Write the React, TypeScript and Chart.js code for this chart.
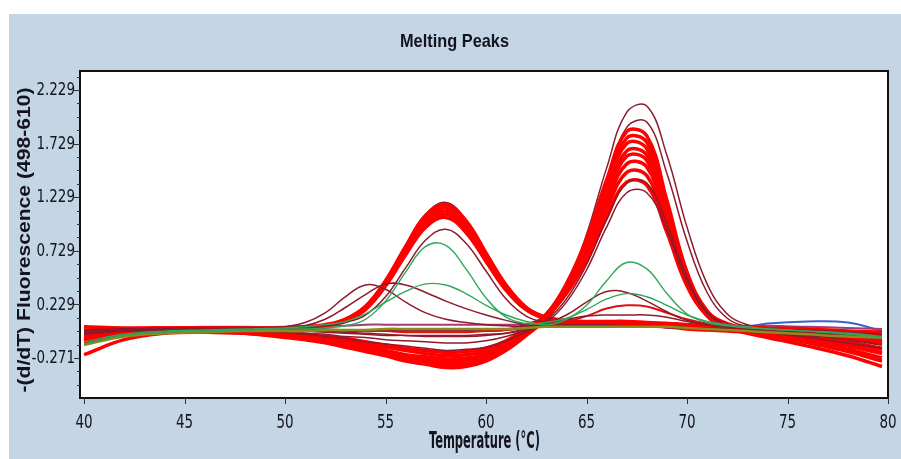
import React, { useEffect, useRef } from "react";
import { Chart, registerables } from "chart.js";

Chart.register(...registerables);

// ---------- data ----------
const TEMPS = [40, 42, 44, 46, 48, 50, 51, 52, 53, 54, 55, 56, 57, 58, 59, 60, 61, 62, 63, 64, 65, 66, 67, 68, 69, 70, 71, 72, 73, 74, 76, 78, 79.7];

const X_TICKS = [40, 45, 50, 55, 60, 65, 70, 75, 80];
const Y_TICKS = [-0.271, 0.229, 0.729, 1.229, 1.729, 2.229];
const X_MIN = 39.8;
const X_MAX = 80;
const Y_MIN = -0.644;
const Y_MAX = 2.406;

const TITLE = "Melting Peaks";
const X_TITLE = "Temperature (°C)";
const Y_TITLE = "-(d/dT) Fluorescence (498-610)";

// high-temperature peak group (bright red)
const RED_HI_1 = [-0.02, -0.01, 0.0, 0.0, -0.01, -0.04, -0.05, -0.07, -0.09, -0.12, -0.15, -0.18, -0.20, -0.22, -0.21, -0.18, -0.11, 0.0, 0.12, 0.33, 0.64, 1.04, 1.37, 1.34, 0.90, 0.40, 0.13, 0.03, 0.0, -0.01, -0.03, -0.05, -0.08];
const RED_HI_2 = [-0.08, -0.05, -0.03, -0.03, -0.04, -0.07, -0.09, -0.12, -0.15, -0.20, -0.24, -0.28, -0.31, -0.34, -0.33, -0.29, -0.19, -0.05, 0.10, 0.34, 0.68, 1.11, 1.46, 1.43, 0.95, 0.42, 0.12, 0.01, -0.03, -0.06, -0.13, -0.21, -0.30];
const RED_HI_3 = [-0.04, -0.02, -0.01, -0.01, -0.02, -0.05, -0.07, -0.10, -0.13, -0.16, -0.20, -0.24, -0.26, -0.28, -0.27, -0.24, -0.15, -0.03, 0.12, 0.36, 0.72, 1.17, 1.54, 1.51, 1.00, 0.45, 0.14, 0.03, 0.0, -0.02, -0.05, -0.08, -0.12];
const RED_HI_4 = [-0.24, -0.10, -0.04, -0.03, -0.04, -0.08, -0.10, -0.13, -0.17, -0.21, -0.25, -0.30, -0.33, -0.36, -0.35, -0.30, -0.20, -0.06, 0.10, 0.37, 0.74, 1.21, 1.61, 1.57, 1.05, 0.46, 0.13, 0.01, -0.04, -0.08, -0.16, -0.25, -0.35];
const RED_HI_5 = [-0.05, -0.03, -0.02, -0.02, -0.03, -0.06, -0.08, -0.11, -0.14, -0.18, -0.22, -0.26, -0.29, -0.31, -0.30, -0.26, -0.17, -0.04, 0.12, 0.38, 0.76, 1.25, 1.66, 1.62, 1.08, 0.48, 0.15, 0.04, 0.0, -0.02, -0.07, -0.12, -0.18];
const RED_HI_6 = [-0.03, -0.02, -0.01, -0.01, -0.02, -0.05, -0.06, -0.08, -0.11, -0.14, -0.17, -0.20, -0.23, -0.25, -0.24, -0.21, -0.13, -0.01, 0.14, 0.40, 0.79, 1.30, 1.73, 1.68, 1.12, 0.50, 0.16, 0.04, 0.0, -0.03, -0.08, -0.15, -0.22];
const RED_HI_7 = [-0.07, -0.04, -0.02, -0.02, -0.03, -0.07, -0.09, -0.12, -0.15, -0.19, -0.23, -0.27, -0.30, -0.33, -0.32, -0.28, -0.18, -0.05, 0.11, 0.41, 0.82, 1.34, 1.78, 1.74, 1.16, 0.52, 0.16, 0.03, -0.02, -0.05, -0.11, -0.19, -0.27];
const RED_HI_8 = [-0.12, -0.06, -0.03, -0.02, -0.02, -0.05, -0.07, -0.10, -0.13, -0.17, -0.21, -0.25, -0.27, -0.29, -0.28, -0.25, -0.16, -0.03, 0.13, 0.42, 0.84, 1.39, 1.84, 1.80, 1.20, 0.53, 0.17, 0.05, 0.01, -0.01, -0.05, -0.09, -0.14];

// low-temperature peak group (bright red)
const RED_LO_1 = [0.02, 0.01, 0.01, 0.0, 0.0, 0.0, 0.01, 0.03, 0.07, 0.18, 0.40, 0.69, 0.95, 1.04, 0.90, 0.63, 0.36, 0.18, 0.09, 0.06, 0.05, 0.05, 0.05, 0.04, 0.03, 0.02, 0.01, 0.0, -0.01, -0.02, -0.05, -0.08, -0.12];
const RED_LO_2 = [-0.06, -0.03, -0.01, -0.01, -0.01, 0.0, 0.01, 0.03, 0.08, 0.19, 0.41, 0.71, 0.97, 1.07, 0.93, 0.65, 0.37, 0.18, 0.10, 0.07, 0.06, 0.06, 0.06, 0.05, 0.05, 0.04, 0.03, 0.02, 0.01, 0.0, -0.02, -0.04, -0.06];
const RED_LO_3 = [-0.03, -0.01, 0.0, 0.0, 0.0, 0.0, 0.01, 0.03, 0.08, 0.20, 0.42, 0.73, 1.00, 1.10, 0.95, 0.67, 0.38, 0.19, 0.10, 0.07, 0.06, 0.05, 0.05, 0.04, 0.03, 0.01, 0.0, -0.01, -0.02, -0.04, -0.08, -0.13, -0.19];
const RED_LO_4 = [-0.01, 0.0, 0.01, 0.01, 0.01, 0.01, 0.02, 0.04, 0.09, 0.21, 0.44, 0.75, 1.03, 1.13, 0.98, 0.69, 0.40, 0.20, 0.11, 0.08, 0.07, 0.07, 0.07, 0.06, 0.05, 0.04, 0.03, 0.02, 0.02, 0.01, 0.0, -0.02, -0.03];
const RED_LO_5 = [-0.10, -0.05, -0.02, -0.01, -0.01, 0.0, 0.01, 0.03, 0.09, 0.21, 0.45, 0.77, 1.06, 1.16, 1.01, 0.71, 0.41, 0.20, 0.10, 0.06, 0.05, 0.04, 0.04, 0.03, 0.02, 0.0, -0.01, -0.02, -0.03, -0.05, -0.10, -0.16, -0.23];

// dark red outlines
const MAROON_LO_1 = [-0.04, -0.02, -0.01, 0.0, 0.0, 0.01, 0.02, 0.04, 0.09, 0.21, 0.45, 0.78, 1.07, 1.18, 1.02, 0.71, 0.41, 0.20, 0.10, 0.06, 0.05, 0.05, 0.04, 0.04, 0.03, 0.02, 0.01, 0.0, -0.01, -0.02, -0.05, -0.09, -0.13];
const MAROON_LO_2 = [-0.02, 0.0, 0.0, 0.0, 0.0, 0.01, 0.02, 0.03, 0.06, 0.13, 0.30, 0.57, 0.83, 0.93, 0.80, 0.54, 0.28, 0.12, 0.06, 0.04, 0.04, 0.04, 0.03, 0.03, 0.02, 0.01, 0.0, 0.0, -0.01, -0.02, -0.04, -0.06, -0.09];
const MAROON_HI_1 = [-0.03, -0.01, 0.0, 0.0, 0.01, 0.0, -0.01, -0.01, -0.02, -0.02, -0.02, -0.02, -0.02, -0.02, -0.02, -0.02, -0.01, 0.05, 0.12, 0.40, 0.88, 1.50, 2.02, 2.08, 1.62, 0.95, 0.42, 0.14, 0.04, 0.01, -0.02, -0.04, -0.06];
const MAROON_HI_2 = [-0.02, 0.0, 0.0, 0.0, 0.0, -0.01, -0.02, -0.03, -0.04, -0.05, -0.06, -0.06, -0.07, -0.07, -0.07, -0.06, -0.04, 0.01, 0.10, 0.36, 0.80, 1.38, 1.88, 1.93, 1.45, 0.82, 0.34, 0.10, 0.02, 0.0, -0.03, -0.06, -0.09];
const MAROON_HI_3 = [-0.03, -0.01, 0.0, 0.0, -0.01, -0.02, -0.04, -0.05, -0.07, -0.08, -0.10, -0.11, -0.12, -0.13, -0.13, -0.11, -0.07, -0.01, 0.08, 0.28, 0.60, 1.02, 1.36, 1.36, 0.98, 0.48, 0.16, 0.04, 0.0, -0.02, -0.06, -0.10, -0.15];
const MAROON_HI_4 = [-0.05, -0.02, -0.01, -0.01, -0.02, -0.03, -0.05, -0.07, -0.09, -0.12, -0.14, -0.16, -0.18, -0.20, -0.19, -0.17, -0.11, -0.03, 0.06, 0.25, 0.55, 0.95, 1.27, 1.27, 0.92, 0.45, 0.15, 0.04, 0.0, -0.03, -0.08, -0.13, -0.18];

// small dark red peaks
const MAROON_SMALL_1 = [-0.02, 0.0, 0.01, 0.01, 0.01, 0.02, 0.06, 0.15, 0.30, 0.41, 0.37, 0.25, 0.15, 0.09, 0.06, 0.04, 0.03, 0.02, 0.02, 0.02, 0.02, 0.02, 0.02, 0.02, 0.01, 0.01, 0.0, 0.0, -0.01, -0.01, -0.03, -0.05, -0.07];
const MAROON_SMALL_2 = [-0.03, -0.01, 0.0, 0.0, 0.0, 0.01, 0.03, 0.09, 0.20, 0.32, 0.42, 0.41, 0.34, 0.26, 0.19, 0.13, 0.08, 0.04, 0.03, 0.03, 0.03, 0.03, 0.03, 0.02, 0.02, 0.01, 0.01, 0.0, -0.01, -0.02, -0.04, -0.06, -0.09];
const MAROON_SMALL_3 = [-0.04, -0.02, -0.01, -0.01, -0.01, -0.01, -0.01, -0.02, -0.03, -0.04, -0.05, -0.06, -0.06, -0.06, -0.06, -0.05, -0.04, -0.01, 0.05, 0.13, 0.25, 0.35, 0.34, 0.26, 0.16, 0.08, 0.04, 0.02, 0.01, 0.0, -0.02, -0.05, -0.08];
const MAROON_SMALL_4 = [-0.01, 0.0, 0.0, 0.0, 0.0, 0.0, 0.0, 0.0, -0.01, -0.01, -0.01, -0.01, -0.01, -0.01, -0.01, 0.0, 0.0, 0.03, 0.06, 0.09, 0.12, 0.13, 0.13, 0.13, 0.11, 0.07, 0.04, 0.02, 0.01, 0.0, -0.01, -0.03, -0.05];
const RED_SMALL = [-0.02, -0.01, 0.0, 0.0, 0.0, 0.0, 0.0, -0.01, -0.01, -0.02, -0.02, -0.03, -0.03, -0.03, -0.03, -0.02, -0.01, 0.01, 0.04, 0.07, 0.12, 0.19, 0.22, 0.21, 0.15, 0.09, 0.05, 0.03, 0.01, 0.0, -0.03, -0.06, -0.10];

// green traces
const GREEN_1 = [-0.14, -0.06, -0.03, -0.02, -0.01, 0.0, 0.0, 0.01, 0.03, 0.09, 0.26, 0.53, 0.77, 0.78, 0.56, 0.29, 0.11, 0.05, 0.06, 0.10, 0.18, 0.28, 0.33, 0.30, 0.22, 0.13, 0.07, 0.04, 0.02, 0.0, -0.02, -0.05, -0.08];
const GREEN_2 = [-0.12, -0.05, -0.02, -0.01, 0.0, 0.01, 0.02, 0.04, 0.07, 0.14, 0.25, 0.35, 0.42, 0.41, 0.33, 0.22, 0.13, 0.07, 0.04, 0.09, 0.22, 0.45, 0.62, 0.56, 0.33, 0.14, 0.06, 0.03, 0.01, 0.0, -0.02, -0.04, -0.07];

// flat traces
const PURPLE = [-0.01, 0.0, 0.01, 0.02, 0.02, 0.02, 0.03, 0.03, 0.03, 0.04, 0.04, 0.04, 0.04, 0.04, 0.04, 0.04, 0.04, 0.04, 0.04, 0.04, 0.04, 0.04, 0.04, 0.04, 0.04, 0.03, 0.03, 0.03, 0.03, 0.03, 0.02, 0.01, 0.0];
const OLIVE = [-0.15, -0.07, -0.04, -0.03, -0.02, -0.02, -0.02, -0.01, -0.01, -0.01, 0.0, 0.0, 0.0, 0.0, 0.0, 0.0, 0.0, 0.01, 0.02, 0.02, 0.02, 0.02, 0.02, 0.02, 0.02, 0.01, 0.0, -0.01, -0.02, -0.03, -0.05, -0.07, -0.08];
const BLUE = [-0.02, -0.01, -0.01, -0.01, -0.01, -0.01, -0.01, -0.01, -0.01, -0.01, -0.01, -0.01, -0.01, -0.01, -0.01, -0.01, -0.01, 0.02, 0.06, 0.06, 0.05, 0.04, 0.04, 0.03, 0.02, 0.01, 0.0, 0.0, 0.02, 0.05, 0.07, 0.06, -0.02];

// ---------- styles ----------
const C_RED = "#ff0000";
const C_MAROON = "#8e1a2c";
const C_GREEN = "#2fa85a";
const C_OLIVE = "#8f8a1c";
const C_BLUE = "#3a62c8";
const C_PURPLE = "#a23c78";
const C_BG = "#c4d6e6";
const C_TEXT = "#14141e";

const NARROW = '"Liberation Sans Narrow", "Arial Narrow", "DejaVu Sans Condensed", sans-serif';
const WIDE = '"Liberation Sans", Arial, "DejaVu Sans", sans-serif';

function mk(values: number[], color: string, width: number) {
  return {
    data: TEMPS.map((t, i) => ({ x: t, y: values[i] })),
    borderColor: color,
    borderWidth: width,
    pointRadius: 0,
    fill: false,
    tension: 0.4,
  };
}

function drawText(
  ctx: CanvasRenderingContext2D,
  text: string,
  x: number,
  y: number,
  font: string,
  align: CanvasTextAlign,
  baseline: CanvasTextBaseline,
  sy: number,
  rot = 0,
  targetWidth = 0
) {
  ctx.save();
  ctx.font = font;
  ctx.textAlign = align;
  ctx.textBaseline = baseline;
  ctx.fillStyle = C_TEXT;
  let sx = 1;
  if (targetWidth > 0) {
    const w = ctx.measureText(text).width;
    if (w > 0) sx = targetWidth / w;
  }
  ctx.translate(x, y);
  if (rot) ctx.rotate(rot);
  ctx.scale(sx, sy);
  ctx.fillText(text, 0, 0);
  ctx.restore();
}

const framePlugin = {
  id: "frame",
  beforeDraw(chart: any) {
    const { ctx, width, height, chartArea } = chart;
    ctx.save();
    ctx.fillStyle = C_BG;
    ctx.fillRect(0, 0, width, height);
    ctx.fillStyle = "#ffffff";
    ctx.fillRect(chartArea.left, chartArea.top, chartArea.right - chartArea.left, chartArea.bottom - chartArea.top);
    ctx.restore();
  },
  afterDraw(chart: any) {
    const { ctx, chartArea } = chart;
    const xs = chart.scales.x;
    const ys = chart.scales.y;
    ctx.save();
    ctx.strokeStyle = "#111111";
    ctx.lineWidth = 2;
    ctx.strokeRect(chartArea.left, chartArea.top, chartArea.right - chartArea.left, chartArea.bottom - chartArea.top);
    ctx.lineWidth = 1;
    ctx.strokeStyle = "#333333";
    X_TICKS.forEach((v) => {
      const px = Math.round(xs.getPixelForValue(v)) + 0.5;
      ctx.beginPath();
      ctx.moveTo(px, chartArea.bottom);
      ctx.lineTo(px, chartArea.bottom + 6);
      ctx.stroke();
    });
    const step = (Y_TICKS[1] - Y_TICKS[0]) / 4;
    const tickAt = (v: number, len: number) => {
      const py = Math.round(ys.getPixelForValue(v)) + 0.5;
      ctx.beginPath();
      ctx.moveTo(chartArea.left - len, py);
      ctx.lineTo(chartArea.left, py);
      ctx.stroke();
    };
    for (let k = -8; k < 30; k++) {
      const v = Y_TICKS[0] + k * step;
      if (v <= Y_MIN + 0.01 || v >= Y_MAX - 0.01) continue;
      tickAt(v, k % 4 === 0 ? 6 : 3);
    }
    ctx.restore();

    Y_TICKS.forEach((v) => {
      drawText(ctx, v.toFixed(3), chartArea.left - 5, ys.getPixelForValue(v) + 0.5, `15px ${NARROW}`, "right", "middle", 1.2);
    });
    X_TICKS.forEach((v) => {
      drawText(ctx, String(v), xs.getPixelForValue(v), chartArea.bottom + 14.5, `15px ${NARROW}`, "center", "top", 1.35);
    });
    drawText(ctx, TITLE, 445.5, 28, `bold 16px ${WIDE}`, "center", "middle", 1.12, 0, 109);
    drawText(ctx, X_TITLE, 475.5, chartArea.bottom + 44, `bold 17px ${NARROW}`, "center", "middle", 1.3, 0, 111);
    drawText(ctx, Y_TITLE, 16, 226, `bold 19px ${WIDE}`, "center", "middle", 1, -Math.PI / 2, 305);
  },
};

export default function App() {
  const ref = useRef<HTMLCanvasElement | null>(null);
  useEffect(() => {
    if (!ref.current) return;
    const datasets = [
      mk(GREEN_1, C_GREEN, 1.4),
      mk(GREEN_2, C_GREEN, 1.4),
      mk(OLIVE, C_OLIVE, 2.5),
      mk(MAROON_SMALL_1, C_MAROON, 1.5),
      mk(MAROON_SMALL_2, C_MAROON, 1.5),
      mk(MAROON_SMALL_3, C_MAROON, 1.5),
      mk(MAROON_SMALL_4, C_MAROON, 1.5),
      mk(RED_SMALL, "#e01010", 2),
      mk(MAROON_LO_2, C_MAROON, 1.5),
      mk(MAROON_HI_3, C_MAROON, 1.5),
      mk(MAROON_HI_4, C_MAROON, 1.5),
      mk(RED_LO_1, C_RED, 3.5),
      mk(RED_LO_2, C_RED, 3.5),
      mk(RED_LO_3, C_RED, 3.5),
      mk(RED_LO_4, C_RED, 3.5),
      mk(RED_LO_5, C_RED, 3.5),
      mk(RED_HI_1, C_RED, 3.5),
      mk(RED_HI_2, C_RED, 3.5),
      mk(RED_HI_3, C_RED, 3.5),
      mk(RED_HI_4, C_RED, 3.5),
      mk(RED_HI_5, C_RED, 3.5),
      mk(RED_HI_6, C_RED, 3.5),
      mk(RED_HI_7, C_RED, 3.5),
      mk(RED_HI_8, C_RED, 3.5),
      mk(MAROON_LO_1, C_MAROON, 1.5),
      mk(MAROON_HI_1, C_MAROON, 1.5),
      mk(MAROON_HI_2, C_MAROON, 1.5),
      mk(PURPLE, C_PURPLE, 2),
      mk(BLUE, C_BLUE, 2),
    ];
    const chart = new Chart(ref.current, {
      type: "line",
      data: { datasets },
      options: {
        responsive: false,
        animation: false,
        events: [],
        layout: { padding: { top: 57, left: 0, right: 13, bottom: 0 } },
        plugins: { legend: { display: false }, tooltip: { enabled: false }, title: { display: false } },
        scales: {
          x: {
            type: "linear",
            min: X_MIN,
            max: X_MAX,
            afterBuildTicks: (s: any) => { s.ticks = X_TICKS.map((v) => ({ value: v })); },
            afterFit: (s: any) => { s.height = 61; },
            ticks: { display: false },
            grid: { display: false },
            border: { display: false },
          },
          y: {
            type: "linear",
            min: Y_MIN,
            max: Y_MAX,
            afterBuildTicks: (s: any) => { s.ticks = Y_TICKS.map((v) => ({ value: v })); },
            afterFit: (s: any) => { s.width = 71; },
            ticks: { display: false },
            grid: { display: false },
            border: { display: false },
          },
        },
      },
      plugins: [framePlugin],
    } as any);
    return () => chart.destroy();
  }, []);

  return (
    <div style={{ position: "absolute", left: 0, top: 0, width: 901, height: 459, background: "#ffffff", overflow: "hidden" }}>
      <canvas ref={ref} width={892} height={445} style={{ position: "absolute", left: 9, top: 14, width: 892, height: 445 }} />
    </div>
  );
}
